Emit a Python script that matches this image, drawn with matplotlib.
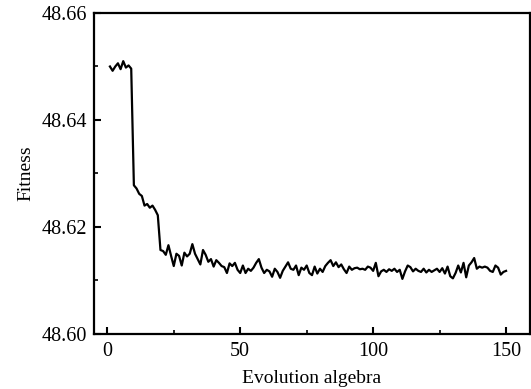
import numpy as np
import matplotlib
matplotlib.use('Agg')
import matplotlib.pyplot as plt
from matplotlib.ticker import MultipleLocator

# fitness per generation
generations = list(range(1, 151))
fitness = [
    48.6500, 48.6492, 48.6500, 48.6506, 48.6495, 48.6510, 48.6498, 48.6502, 48.6496,
    48.6278, 48.6272, 48.6262, 48.6258, 48.6240, 48.6243, 48.6236, 48.6240, 48.6232, 48.6222,
    48.6157, 48.6155, 48.6148, 48.6166, 48.6146, 48.6127, 48.6150, 48.6146, 48.6128, 48.6152,
    48.6145, 48.6150, 48.6168, 48.6150, 48.6140, 48.6130, 48.6157, 48.6148, 48.6135, 48.6140,
    48.6126, 48.6138, 48.6133, 48.6127, 48.6125, 48.6114, 48.6132, 48.6127, 48.6133, 48.6120,
    48.6114, 48.6128, 48.6114, 48.6122, 48.6118, 48.6124, 48.6133, 48.6140, 48.6124, 48.6114,
    48.6120, 48.6117, 48.6107, 48.6122, 48.6116, 48.6105, 48.6118, 48.6126, 48.6134, 48.6122,
    48.6120, 48.6128, 48.6110, 48.6124, 48.6120, 48.6128, 48.6114, 48.6110, 48.6126, 48.6113,
    48.6122, 48.6116, 48.6127, 48.6133, 48.6138, 48.6127, 48.6134, 48.6125, 48.6130, 48.6121,
    48.6114, 48.6126, 48.6120, 48.6123, 48.6124, 48.6121, 48.6122, 48.6120, 48.6126, 48.6124,
    48.6118, 48.6133, 48.6108, 48.6117, 48.6120, 48.6116, 48.6121, 48.6118, 48.6122, 48.6116,
    48.6120, 48.6103, 48.6117, 48.6128, 48.6125, 48.6117, 48.6122, 48.6118, 48.6116, 48.6122,
    48.6115, 48.6120, 48.6116, 48.6119, 48.6122, 48.6116, 48.6123, 48.6113, 48.6126, 48.6108,
    48.6104, 48.6114, 48.6128, 48.6115, 48.6133, 48.6106, 48.6128, 48.6134, 48.6142, 48.6122,
    48.6126, 48.6124, 48.6126, 48.6124, 48.6118, 48.6116, 48.6128, 48.6124, 48.6111, 48.6116,
    48.6118,
]
assert len(fitness) == len(generations)

plt.rcParams['font.family'] = ['Liberation Serif', 'DejaVu Serif']
plt.rcParams['font.size'] = 14

fig = plt.figure(figsize=(5.31, 3.89), dpi=100)
ax = fig.add_axes([94/531, 1 - 334/389, 436/531, 321/389])

ax.plot(generations, fitness, color='black', lw=1.6)

ax.set_xlim(-5, 159)
ax.set_ylim(48.60, 48.66)
ax.xaxis.set_major_locator(MultipleLocator(50))
ax.xaxis.set_minor_locator(MultipleLocator(25))
ax.yaxis.set_major_locator(MultipleLocator(0.02))
ax.yaxis.set_minor_locator(MultipleLocator(0.01))
ax.yaxis.set_major_formatter(matplotlib.ticker.FormatStrFormatter('%.2f'))

ax.tick_params(which='major', direction='in', length=5, width=1.5, top=False, right=False)
ax.tick_params(which='minor', direction='in', length=3, width=1.2, top=False, right=False)
ax.tick_params(axis='x', labelsize=14.5, pad=6)
ax.tick_params(axis='y', labelsize=14.5, pad=5)
for s in ax.spines.values():
    s.set_linewidth(1.6)

ax.set_xlabel('Evolution algebra', fontsize=14, labelpad=6)
ax.set_ylabel('Fitness', fontsize=14, labelpad=5)

plt.savefig('out.png', dpi=100)
